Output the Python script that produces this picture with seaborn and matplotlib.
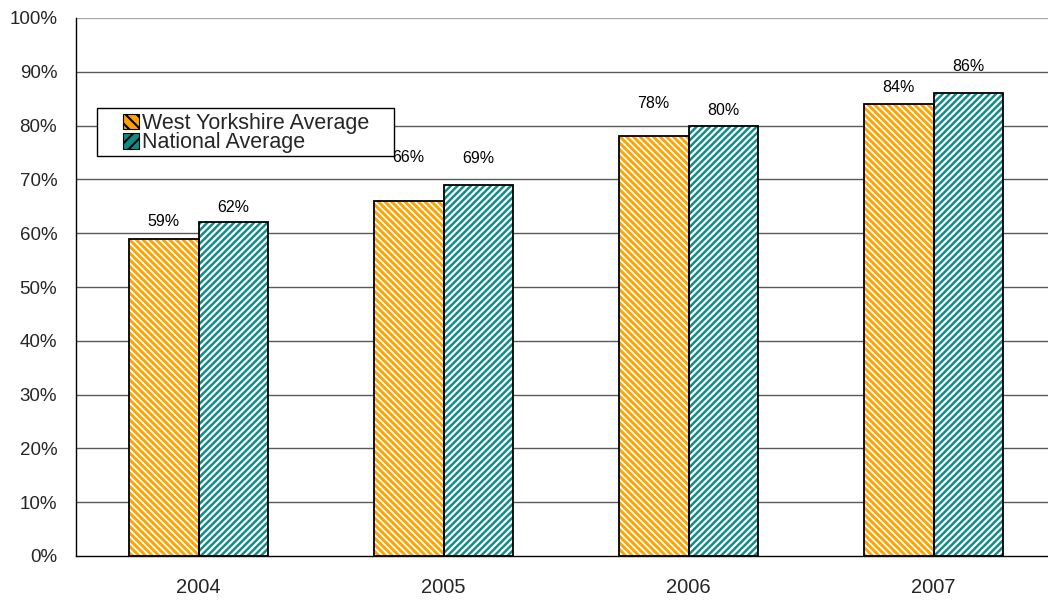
import matplotlib
matplotlib.use("Agg")
import matplotlib.pyplot as plt
from matplotlib.patches import Rectangle, Patch
import seaborn as sns
import pandas as pd

years = ["2004", "2005", "2006", "2007"]
west_yorkshire = [59, 66, 78, 84]
national = [62, 69, 80, 86]
series_names = ["West Yorkshire Average", "National Average"]
y_ticks = [0, 10, 20, 30, 40, 50, 60, 70, 80, 90, 100]

# label offsets above bar tops (points), mimicking the original placement
label_offsets = [[12, 31, 24, 12], [11, 19, 11, 19]]

colors = ["#FFA200", "#0F8C87"]
hatches = ["\\\\\\\\\\", "/////"]
hatch_lw = [1.3, 1.6]

sns.set_theme(style="white")
plt.rcParams["font.family"] = ["Liberation Sans", "DejaVu Sans"]
plt.rcParams["hatch.linewidth"] = 1.5

df = pd.DataFrame({
    "Year": years * 2,
    "Value": west_yorkshire + national,
    "Series": [series_names[0]] * 4 + [series_names[1]] * 4,
})

fig = plt.figure(figsize=(10.48, 6.01), dpi=100)
ax = fig.add_axes([76 / 1048, 45 / 601, 980 / 1048, 538 / 601])

sns.barplot(data=df, x="Year", y="Value", hue="Series", hue_order=series_names,
            palette=colors, width=0.571, gap=0, legend=False, ax=ax, zorder=3)

for ci, cont in enumerate(ax.containers):
    for bi, bar in enumerate(cont):
        bar.set_facecolor(colors[ci])
        bar.set_edgecolor("white")
        bar.set_linewidth(0)
        bar.set_hatch(hatches[ci])
        if hasattr(bar, "set_hatch_linewidth"):
            bar.set_hatch_linewidth(hatch_lw[ci])
        ax.add_patch(Rectangle(bar.get_xy(), bar.get_width(), bar.get_height(),
                               fill=False, edgecolor="black", lw=1.3, zorder=4))
        val = bar.get_height()
        ax.annotate(f"{val:.0f}%", (bar.get_x() + bar.get_width() / 2, val),
                    xytext=(0, label_offsets[ci][bi]), textcoords="offset points",
                    ha="center", va="center", fontsize=11.5, color="black", zorder=5)

ax.set_ylim(0, 100)
ax.set_xlim(-0.5, 3.5)
ax.set_yticks(y_ticks)
ax.set_yticklabels([f"{t}%" for t in y_ticks], fontsize=13.5)
ax.set_xticks([0, 1, 2, 3])
ax.set_xticklabels(years, fontsize=14.5)
ax.set_xticks([-0.5, 0.5, 1.5, 2.5, 3.5], minor=True)
ax.tick_params(axis="x", which="major", length=0, pad=16)
ax.tick_params(axis="x", which="minor", length=6, width=1.5, color="#777777", direction="out")
ax.tick_params(axis="y", which="major", length=9, width=1, color="black", direction="inout", pad=9)
ax.set_xlabel("")
ax.set_ylabel("")

for t in y_ticks[1:]:
    ax.axhline(t, color="#5a5a5a" if t < 100 else "#aaaaaa", lw=1, zorder=1)

for s in ["top", "right"]:
    ax.spines[s].set_visible(False)
ax.spines["left"].set_color("black")
ax.spines["left"].set_linewidth(1)
ax.spines["bottom"].set_color("black")
ax.spines["bottom"].set_linewidth(1)
ax.spines["left"].set_zorder(6)

# legend
handles = [Patch(facecolor=colors[i], edgecolor="black", hatch=hatches[i][:3], lw=0.8)
           for i in range(2)]
leg = fig.legend(handles, series_names, loc="upper left",
                 bbox_to_anchor=(123 / 1048, 1 - 113 / 601), frameon=False,
                 fontsize=15.5, handlelength=0.75, handleheight=0.75,
                 handletextpad=0.15, labelspacing=-0.08, borderpad=0.0,
                 borderaxespad=0.0)
fig.add_artist(Rectangle((97 / 1048, 1 - 156 / 601), (394 - 97) / 1048, 48 / 601,
                         transform=fig.transFigure, facecolor="white",
                         edgecolor="black", lw=1, zorder=2))
leg.set_zorder(10)

fig.savefig("out.png", dpi=100)
